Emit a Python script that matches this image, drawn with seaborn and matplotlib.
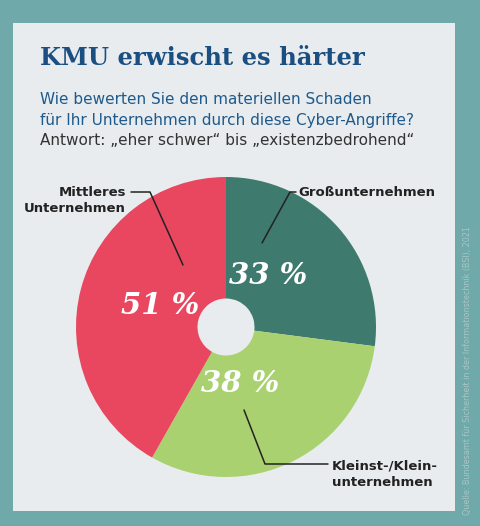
import matplotlib
matplotlib.use("Agg")
import matplotlib.pyplot as plt
import seaborn as sns
from matplotlib.patches import Rectangle

sns.set_style("white")

categories = ["Großunternehmen", "Kleinst-/Klein-\nunternehmen", "Mittleres\nUnternehmen"]
values = [33, 38, 51]
colors = ["#3f7a6e", "#a9d16f", "#e8475f"]

W, H = 481, 526
fig = plt.figure(figsize=(W / 100, H / 100), dpi=100)
fig.patch.set_facecolor("#6fa9a9")


def fx(px):
    return px / W


def fy(py):
    return 1 - py / H


# light panel as its own background axes
bg = fig.add_axes([fx(13), fy(511), 442 / W, 488 / H], zorder=-1)
bg.set_facecolor("#e8ecee")
bg.axis("off")
bg.add_patch(Rectangle((0, 0), 1, 1, facecolor="#e8ecee", edgecolor="none"))

ax = fig.add_axes([fx(76), fy(477), 300 / W, 300 / H], zorder=1)
wedges, _ = ax.pie(values, colors=colors, startangle=90, counterclock=False,
                   radius=1, wedgeprops=dict(width=0.81, edgecolor="none"))
ax.set_xlim(-1, 1)
ax.set_ylim(-1, 1)
ax.set_aspect("equal")
ax.axis("off")

# percentage labels
pct_pos = [(268, 275), (240, 383), (160, 305)]
for v, (x, y) in zip(values, pct_pos):
    fig.text(fx(x), fy(y), f"{v} %", color="white", fontsize=21, style="italic", weight="semibold",
             family="DejaVu Serif", ha="center", va="center", zorder=5)

# category labels with leader lines
fig.text(fx(298), fy(192), categories[0], fontsize=9.5, weight="bold", color="#222", va="center")
fig.add_artist(plt.Line2D([fx(296), fx(290), fx(262)], [fy(192), fy(192), fy(243)],
                          color="#222", lw=1.1, transform=fig.transFigure, zorder=5))
fig.text(fx(332), fy(474), categories[1], fontsize=9.5, weight="bold", color="#222",
         va="center", linespacing=1.3)
fig.add_artist(plt.Line2D([fx(328), fx(265), fx(244)], [fy(464), fy(464), fy(410)],
                          color="#222", lw=1.1, transform=fig.transFigure, zorder=5))
fig.text(fx(126), fy(201), categories[2], fontsize=9.5, weight="bold", color="#222",
         va="center", ha="right", linespacing=1.3)
fig.add_artist(plt.Line2D([fx(131), fx(150), fx(183)], [fy(192), fy(192), fy(265)],
                          color="#222", lw=1.1, transform=fig.transFigure, zorder=5))

fig.text(fx(40), fy(58), "KMU erwischt es härter", fontsize=17.5, weight="semibold",
         family="DejaVu Serif", color="#1b4f82", va="center")
fig.text(fx(40), fy(110), "Wie bewerten Sie den materiellen Schaden\nfür Ihr Unternehmen durch diese Cyber-Angriffe?",
         fontsize=11, color="#1f5a8c", va="center", linespacing=1.45)
fig.text(fx(40), fy(140), "Antwort: „eher schwer“ bis „existenzbedrohend“",
         fontsize=11, color="#333", va="center")
fig.text(fx(468), fy(515), "Quelle: Bundesamt für Sicherheit in der Informationstechnik (BSI), 2021",
         fontsize=5.8, color="#a7c6c6", rotation=90, ha="center", va="bottom")

fig.savefig("out.png", dpi=100, facecolor=fig.get_facecolor())
